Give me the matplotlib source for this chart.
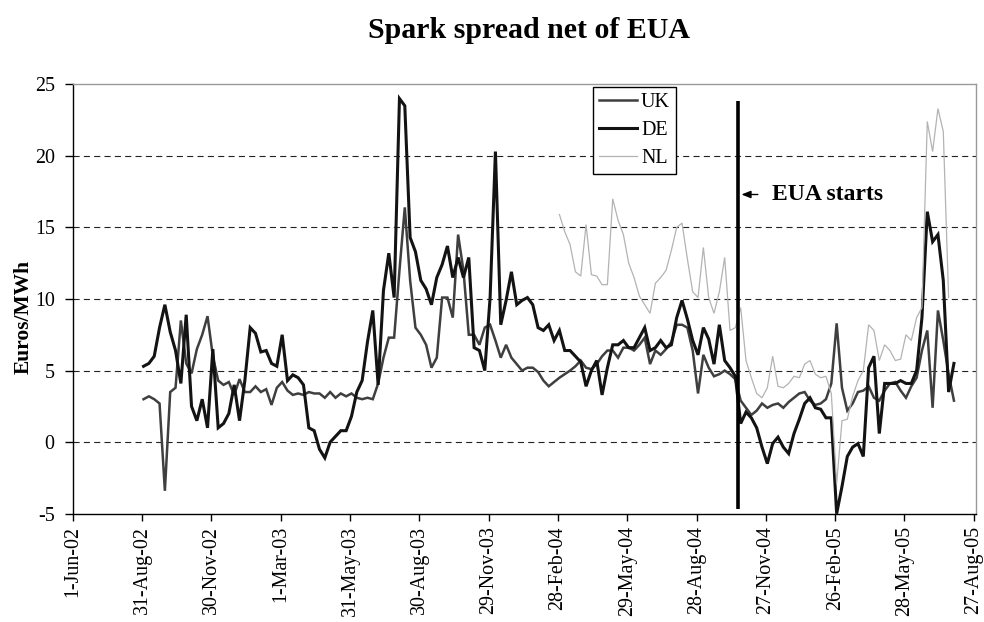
import matplotlib
matplotlib.use('Agg')
import matplotlib.pyplot as plt
import numpy as np
import pandas as pd

plt.rcParams['font.family'] = ['Liberation Serif', 'DejaVu Serif']
plt.rcParams['axes.unicode_minus'] = False

# ---------------- data ----------------
title = 'Spark spread net of EUA'
y_label = 'Euros/MWh'
names = ['UK', 'DE', 'NL']

start_uk_de = '2002-09-02'   # weekly observations
start_nl = '2004-03-01'
freq = '7D'

uk = [3.0, 3.2, 3.0, 2.7, -3.4, 3.5, 3.8, 8.5, 5.5, 4.8,
      6.5, 7.5, 8.8, 6.0, 4.3, 4.0, 4.2, 3.3, 4.4, 3.5,
      3.5, 3.9, 3.5, 3.7, 2.6, 3.8, 4.2, 3.6, 3.3, 3.4,
      3.3, 3.5, 3.4, 3.4, 3.1, 3.5, 3.1, 3.4, 3.2, 3.4,
      3.1, 3.0, 3.1, 3.0, 4.1, 5.9, 7.3, 7.3, 12.0, 16.4,
      11.3, 8.0, 7.5, 6.8, 5.2, 5.9, 10.1, 10.1, 8.7, 14.5,
      12.0, 7.5, 7.5, 6.8, 8.0, 8.2, 7.1, 5.9, 6.8, 5.9,
      5.45, 5.0, 5.2, 5.2, 4.9, 4.3, 3.9, 4.2, 4.5, 4.75,
      5.0, 5.3, 5.7, 5.2, 5.1, 5.45, 6.0, 6.4, 6.4, 5.9,
      6.6, 6.6, 6.4, 6.8, 7.3, 5.45, 6.4, 6.1, 6.5, 7.0,
      8.2, 8.2, 8.0, 6.4, 3.4, 6.1, 5.2, 4.6, 4.75, 5.0,
      4.75, 4.4, 2.9, 2.4, 1.9, 2.2, 2.7, 2.4, 2.6, 2.7,
      2.4, 2.8, 3.1, 3.4, 3.5, 2.9, 2.6, 2.7, 3.0, 4.1,
      8.3, 3.8, 2.2, 2.7, 3.5, 3.6, 3.9, 3.1, 2.9, 3.6,
      4.1, 4.2, 3.6, 3.1, 3.9, 4.5, 6.4, 7.8, 2.4, 9.2,
      7.1, 4.75, 2.9]

de = [5.3, 5.5, 6.0, 8.0, 9.6, 7.7, 6.4, 4.1, 8.9, 2.5,
      1.5, 3.0, 1.0, 6.5, 1.0, 1.3, 2.0, 4.0, 1.5, 4.3,
      8.0, 7.6, 6.3, 6.4, 5.5, 5.3, 7.5, 4.3, 4.7, 4.5,
      4.0, 1.0, 0.8, -0.5, -1.1, 0.0, 0.4, 0.8, 0.8, 1.8,
      3.5, 4.3, 7.0, 9.2, 4.0, 10.6, 13.2, 10.1, 24.0, 23.5,
      14.3, 13.3, 11.3, 10.7, 9.6, 11.5, 12.4, 13.7, 11.5, 12.9,
      11.5, 12.9, 6.6, 6.4, 5.0, 10.1, 20.3, 8.2, 9.9, 11.9,
      9.6, 9.9, 10.1, 9.6, 8.0, 7.8, 8.2, 7.1, 7.8, 6.4,
      6.4, 6.0, 5.6, 3.9, 5.0, 5.7, 3.3, 5.2, 6.8, 6.8,
      7.1, 6.6, 6.6, 7.3, 8.0, 6.4, 6.6, 7.1, 6.6, 6.8,
      8.7, 9.9, 8.6, 7.1, 6.1, 8.0, 7.2, 5.45, 8.2, 5.7,
      5.2, 4.6, 1.3, 2.1, 1.7, 1.0, -0.35, -1.5, -0.1, 0.35,
      -0.35, -0.8, 0.6, 1.6, 2.7, 3.1, 2.4, 2.3, 1.7, 1.7,
      -5.0, -3.1, -1.0, -0.35, -0.1, -1.0, 5.2, 6.0, 0.6, 4.1,
      4.1, 4.1, 4.3, 4.1, 4.1, 5.0, 8.7, 16.1, 14.0, 14.5,
      11.3, 3.5, 5.5]

nl = [15.9, 14.7, 13.8, 11.9, 11.6, 15.2, 11.7, 11.6, 11.0, 11.0,
      17.0, 15.5, 14.5, 12.5, 11.5, 10.2, 9.6, 9.0, 11.1, 11.5,
      12.0, 13.4, 15.0, 15.3, 12.8, 10.5, 10.1, 13.6, 10.1, 9.0,
      10.5, 12.9, 7.8, 8.0, 9.4, 5.7, 4.5, 3.4, 3.1, 3.8,
      6.0, 3.9, 3.8, 4.1, 4.6, 4.5, 5.45, 5.7, 4.75, 4.5,
      4.6, 3.4, -2.9, 1.5, 1.6, 3.2, 4.3, 5.0, 8.2, 7.8,
      5.7, 6.8, 6.4, 5.7, 5.8, 7.5, 7.1, 8.7, 9.4, 22.4,
      20.3, 23.3, 21.7, 10.1]

eua_date = '2004-10-22'
eua_span = (-4.7, 23.8)
eua_text = 'EUA starts'
eua_text_y = 17.3

tick_first = '2002-06-01'
tick_count = 14
tick_freq = '91D'
x_end = '2005-08-30'
y_ticks = [-5, 0, 5, 10, 15, 20, 25]

# ---------------- figure ----------------
fig = plt.figure(figsize=(9.84, 6.22), dpi=100)
ax = fig.add_axes([0.0739, 0.1741, 0.918, 0.6904])

d_ukde = pd.date_range(start_uk_de, periods=len(uk), freq=freq)
d_nl = pd.date_range(start_nl, periods=len(nl), freq=freq)

styles = {
    'UK': dict(color='#3f3f3f', lw=1.8),
    'DE': dict(color='#131313', lw=2.2),
    'NL': dict(color='#b3b3b3', lw=0.9),
}
handles = []
for name, dts, vals in [('UK', d_ukde, uk), ('DE', d_ukde, de), ('NL', d_nl, nl)]:
    h, = ax.plot(dts, vals, label=name, solid_joinstyle='miter', zorder=3, **styles[name])
    handles.append(h)

ax.set_ylim(y_ticks[0], y_ticks[-1])
ax.set_yticks(y_ticks)
ticks = pd.date_range(tick_first, periods=tick_count, freq=tick_freq)
ax.set_xlim(ticks[0], pd.Timestamp(x_end))
ax.set_xticks(ticks)
ax.set_xticklabels([f"{t.day}-{t.strftime('%b')}-{t.strftime('%y')}" for t in ticks],
                   rotation=90, fontsize=14.4)
ax.tick_params(axis='x', direction='out', length=5, width=1, pad=4)
ax.tick_params(axis='y', direction='out', length=6, width=1, pad=7, labelsize=14.4)

for yv in y_ticks[1:-1]:
    ax.axhline(yv, color='#222222', lw=0.8, linestyle=(0, (5.5, 3.8)), zorder=1)

for s in ['left', 'bottom']:
    ax.spines[s].set_color('black')
    ax.spines[s].set_linewidth(1.0)
for s in ['top', 'right']:
    ax.spines[s].set_color('#9a9a9a')
    ax.spines[s].set_linewidth(1.0)

# EUA start marker
eua = pd.Timestamp(eua_date)
ax.plot([eua, eua], list(eua_span), color='black', lw=2.6, solid_capstyle='butt', zorder=4)
ax.annotate('', xy=(eua, eua_text_y), xytext=(14, 0), textcoords='offset points',
            arrowprops=dict(arrowstyle='-|>,head_length=0.55,head_width=0.22',
                            color='black', lw=1.0, shrinkA=0, shrinkB=2.2), zorder=5)
ax.annotate(eua_text, xy=(eua, eua_text_y), xytext=(24.5, 0), textcoords='offset points',
            ha='left', va='center', fontsize=17, fontweight='bold', zorder=5)

leg = fig.legend(handles=handles, labels=names, loc='upper left',
                 bbox_to_anchor=(593 / 984, 1 - 87 / 622), bbox_transform=fig.transFigure,
                 fontsize=14.4, frameon=True, fancybox=False, edgecolor='black',
                 framealpha=1, borderpad=0.3, labelspacing=0.45, handlelength=1.9,
                 handletextpad=0.2, borderaxespad=0)
leg.get_frame().set_linewidth(1.0)

fig.text(529 / 984, 1 - 30 / 622, title, ha='center', va='center',
         fontsize=21.5, fontweight='bold')
fig.text(24 / 984, 1 - 317 / 622, y_label, ha='center', va='center',
         rotation=90, fontsize=15.5, fontweight='bold')

fig.savefig('out.png', dpi=100)
